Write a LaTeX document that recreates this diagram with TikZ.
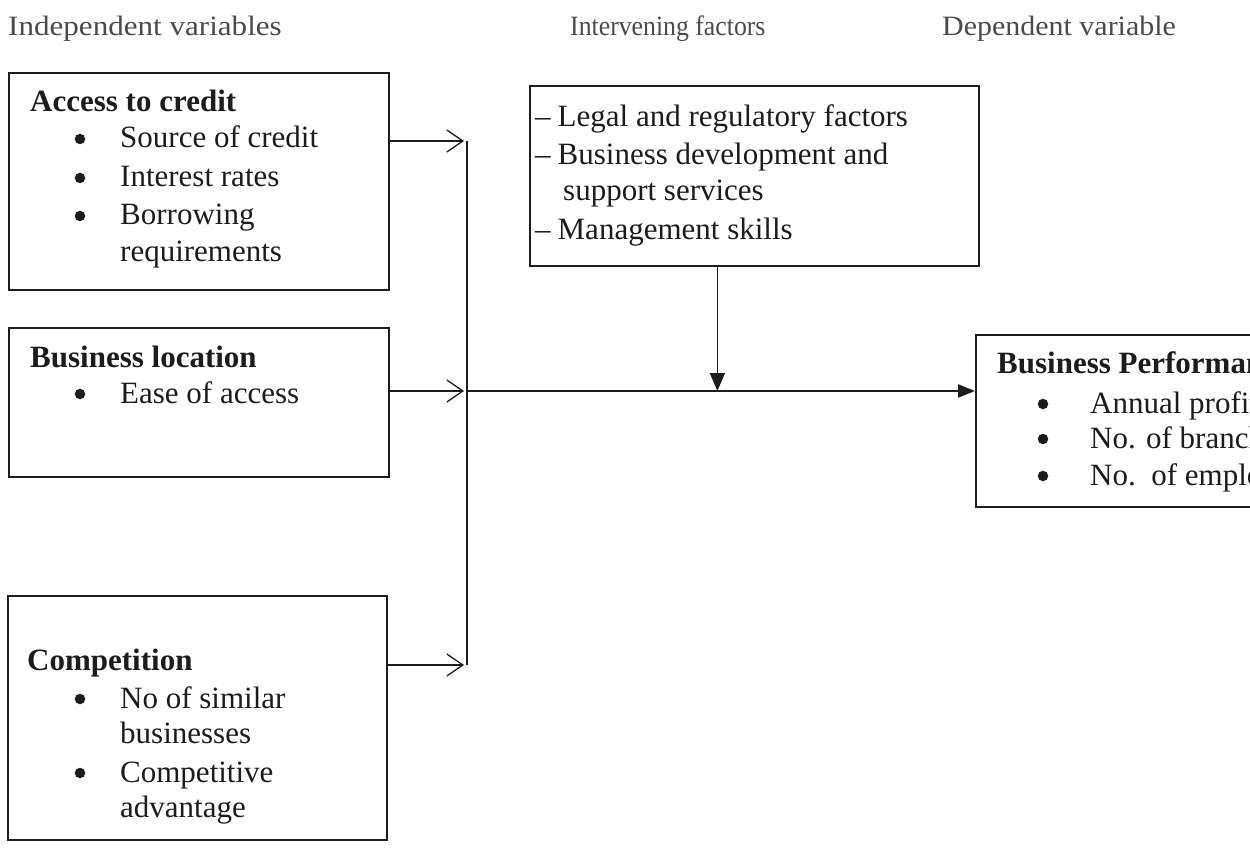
\documentclass[tikz,border=0pt]{standalone}
\usepackage{fontspec}
\usepackage{graphicx}
\setmainfont{Liberation Serif}
\usetikzlibrary{arrows.meta}
\newcommand\bodyfont{\fontsize{31}{37}\selectfont}
\newcommand\headfont{\fontsize{28}{32}\selectfont}
\definecolor{ink}{HTML}{1C1C1C}
\definecolor{headgrey}{HTML}{4A4A4A}
\begin{document}
\begin{tikzpicture}[x=1pt,y=-1pt,
  box/.style 2 args={draw=ink,line width=1.8pt,anchor=north west,
    minimum width=#1,minimum height=#2,inner sep=0pt},
  txt/.style={anchor=base west,inner sep=0pt,text=ink,font=\bodyfont},
  head/.style={anchor=base west,inner sep=0pt,text=headgrey,font=\headfont},
  dot/.style={circle,fill=ink,inner sep=0pt,minimum size=10.5pt},
  feed/.style={draw=ink,line width=1.3pt,-{Straight Barb[length=16pt,width=22pt,line width=1.3pt]}},
  joinline/.style={draw=ink,line width=1.5pt},
  mainarr/.style={draw=ink,line width=2.4pt,-{Triangle[length=17pt,width=13pt]}},
  downarr/.style={draw=ink,line width=1.6pt,-{Triangle[length=18pt,width=15pt]}}]
\useasboundingbox (0,0) rectangle (1250,850);
\clip (0,0) rectangle (1250,850);
\fill[white] (0,0) rectangle (1250,850);

% headers
\node[head] (h1) at (8,36) {\scalebox{1.11}[1]{Independent variables}};
\node[head] (h2) at (570,36) {\scalebox{0.92}[1]{Intervening factors}};
\node[head] (h3) at (942,36) {\scalebox{1.07}[1]{Dependent variable}};

% boxes
\node[box={380}{217}] (b1) at (8,72) {};
\node[box={380}{149}] (b2) at (8,327) {};
\node[box={379}{244}] (b3) at (7,595) {};
\node[box={449}{180}] (m) at (529,85) {};
\node[box={320}{172}] (r) at (975,334) {};

% box 1 text
\node[txt] (b1t) at (30,112) {\textbf{Access to credit}};
\node[dot] (b1d1) at (80,139) {};
\node[txt] (b1l1) at (120,148) {Source of credit};
\node[dot] (b1d2) at (80,178) {};
\node[txt] (b1l2) at (120,187) {Interest rates};
\node[dot] (b1d3) at (80,216) {};
\node[txt] (b1l3) at (120,225) {Borrowing};
\node[txt] (b1l4) at (120,262) {requirements};

% box 2 text
\node[txt] (b2t) at (30,367) {\textbf{Business location}};
\node[dot] (b2d1) at (80,394) {};
\node[txt] (b2l1) at (120,403) {Ease of access};

% box 3 text
\node[txt] (b3t) at (27,670) {\textbf{Competition}};
\node[dot] (b3d1) at (80,699) {};
\node[txt] (b3l1) at (120,708) {No of similar};
\node[txt] (b3l2) at (120,743) {businesses};
\node[dot] (b3d2) at (80,773) {};
\node[txt] (b3l3) at (120,782) {Competitive};
\node[txt] (b3l4) at (120,817) {advantage};

% middle box text
\node[txt] (ml1) at (535,127) {\textendash\hspace{7pt}Legal and regulatory factors};
\node[txt] (ml2) at (535,165) {\textendash\hspace{7pt}Business development and};
\node[txt] (ml3) at (563,201) {support services};
\node[txt] (ml4) at (535,240) {\textendash\hspace{7pt}Management skills};

% right box text
\node[txt] (rt) at (997,373) {\textbf{Business Performance}};
\node[dot] (rd1) at (1043,404) {};
\node[txt] (rl1) at (1090,413) {Annual profit};
\node[dot] (rd2) at (1043,439) {};
\node[txt] (rl2) at (1090,448) {No. of branches};
\node[dot] (rd3) at (1043,476) {};
\node[txt] (rl3) at (1090,485) {No.\ \ of employees};

% junction coordinates
\coordinate (j1) at (467,141);
\coordinate (j2) at (467,391);
\coordinate (j3) at (467,665);
\coordinate (ms) at ([xshift=-37pt]m.south);
\coordinate (jm) at (ms |- j2);

% connectors
\draw[feed] (b1.east |- j1) -- ([xshift=-3pt]j1);
\draw[feed] (b2.east |- j2) -- ([xshift=-3pt]j2);
\draw[feed] (b3.east |- j3) -- ([xshift=-3pt]j3);
\draw[joinline] (j1) -- (j3);
\draw[mainarr] (j2) -- (r.west |- j2);
\draw[downarr] (ms) -- (jm);
\end{tikzpicture}
\end{document}
